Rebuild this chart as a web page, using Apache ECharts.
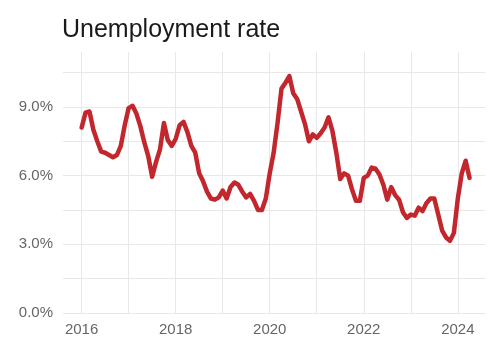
<!DOCTYPE html>
<html>
<head>
<meta charset="utf-8">
<title>Unemployment rate</title>
<script src="https://cdn.jsdelivr.net/npm/echarts@6/dist/echarts.min.js"></script>
<style>
  html, body { margin: 0; padding: 0; background: #fff; }
  #chart { width: 488px; height: 337px; }
</style>
</head>
<body>
<div id="chart"></div>
<script>
// ====== monthly unemployment rate, Jan 2016 .. Apr 2024 ======
const startYear = 2016;
const rates = [
  8.1, 8.75, 8.8, 8.0, 7.5, 7.05, 7.0, 6.9, 6.8, 6.9, 7.3, 8.2,      // 2016
  8.95, 9.05, 8.7, 8.15, 7.45, 6.85, 5.95, 6.6, 7.15, 8.3, 7.55, 7.3, // 2017
  7.6, 8.2, 8.35, 7.9, 7.3, 7.0, 6.1, 5.75, 5.3, 5.0, 4.95, 5.05,     // 2018
  5.35, 5.0, 5.5, 5.7, 5.6, 5.3, 5.05, 5.2, 4.9, 4.5, 4.5, 5.0,       // 2019
  6.1, 7.0, 8.3, 9.8, 10.05, 10.35, 9.6, 9.35, 8.8, 8.25, 7.5, 7.8,   // 2020
  7.65, 7.85, 8.1, 8.55, 7.95, 7.0, 5.85, 6.1, 6.0, 5.4, 4.9, 4.9,    // 2021
  5.9, 6.0, 6.35, 6.3, 6.05, 5.6, 4.95, 5.5, 5.15, 4.95, 4.4, 4.15,   // 2022
  4.3, 4.25, 4.6, 4.45, 4.8, 5.0, 5.0, 4.3, 3.6, 3.3, 3.15, 3.5,      // 2023
  5.0, 6.1, 6.65, 5.9                                                  // 2024
];
const yearLabels = [2016, 2018, 2020, 2022, 2024];
const rateTicks = [0, 3, 6, 9];

// month index -> decimal year
const seriesData = rates.map((v, i) => [startYear + i / 12, v]);

const gridColor = "#e8e8e8";
const labelColor = "#666666";
const fontFamily = "'Liberation Sans', Arial, Helvetica, sans-serif";

const option = {
  animation: false,
  title: {
    text: "Unemployment rate",
    left: 62,
    top: 18,
    padding: 0,
    textStyle: { color: "#1a1a1a", fontSize: 25, fontWeight: "normal", fontFamily },
  },
  grid: { left: 63, right: 0, top: 52, bottom: 23.5 },
  xAxis: {
    type: "value",
    min: 2015.604,
    max: 2024.578,
    minInterval: 1,
    maxInterval: 1,
    axisLine: { show: false },
    axisTick: { show: false },
    axisLabel: {
      color: labelColor,
      fontSize: 15,
      fontFamily,
      margin: 9,
      formatter: (v) => (yearLabels.includes(Math.round(v)) && Math.abs(v - Math.round(v)) < 1e-6 ? String(Math.round(v)) : ""),
    },
    splitLine: { show: true, showMinLine: false, showMaxLine: false, lineStyle: { color: gridColor, width: 1 } },
  },
  yAxis: {
    type: "value",
    min: 0,
    max: 11.4,
    minInterval: 1.5,
    maxInterval: 1.5,
    axisLine: { show: false },
    axisTick: { show: false },
    axisLabel: {
      color: labelColor,
      fontSize: 15,
      fontFamily,
      margin: 10,
      formatter: (v) => {
        const hit = rateTicks.find((t) => Math.abs(t - v) < 1e-6);
        return hit === undefined ? "" : hit.toFixed(1) + "%";
      },
    },
    splitLine: { show: true, showMaxLine: false, lineStyle: { color: gridColor, width: 1 } },
  },
  series: [
    {
      type: "line",
      showSymbol: false,
      lineStyle: { color: "#c1272d", width: 4.5, cap: "round", join: "round" },
      data: seriesData,
    },
  ],
};

const chart = echarts.init(document.getElementById("chart"), null, { renderer: "canvas" });
chart.setOption(option);
</script>
</body>
</html>
